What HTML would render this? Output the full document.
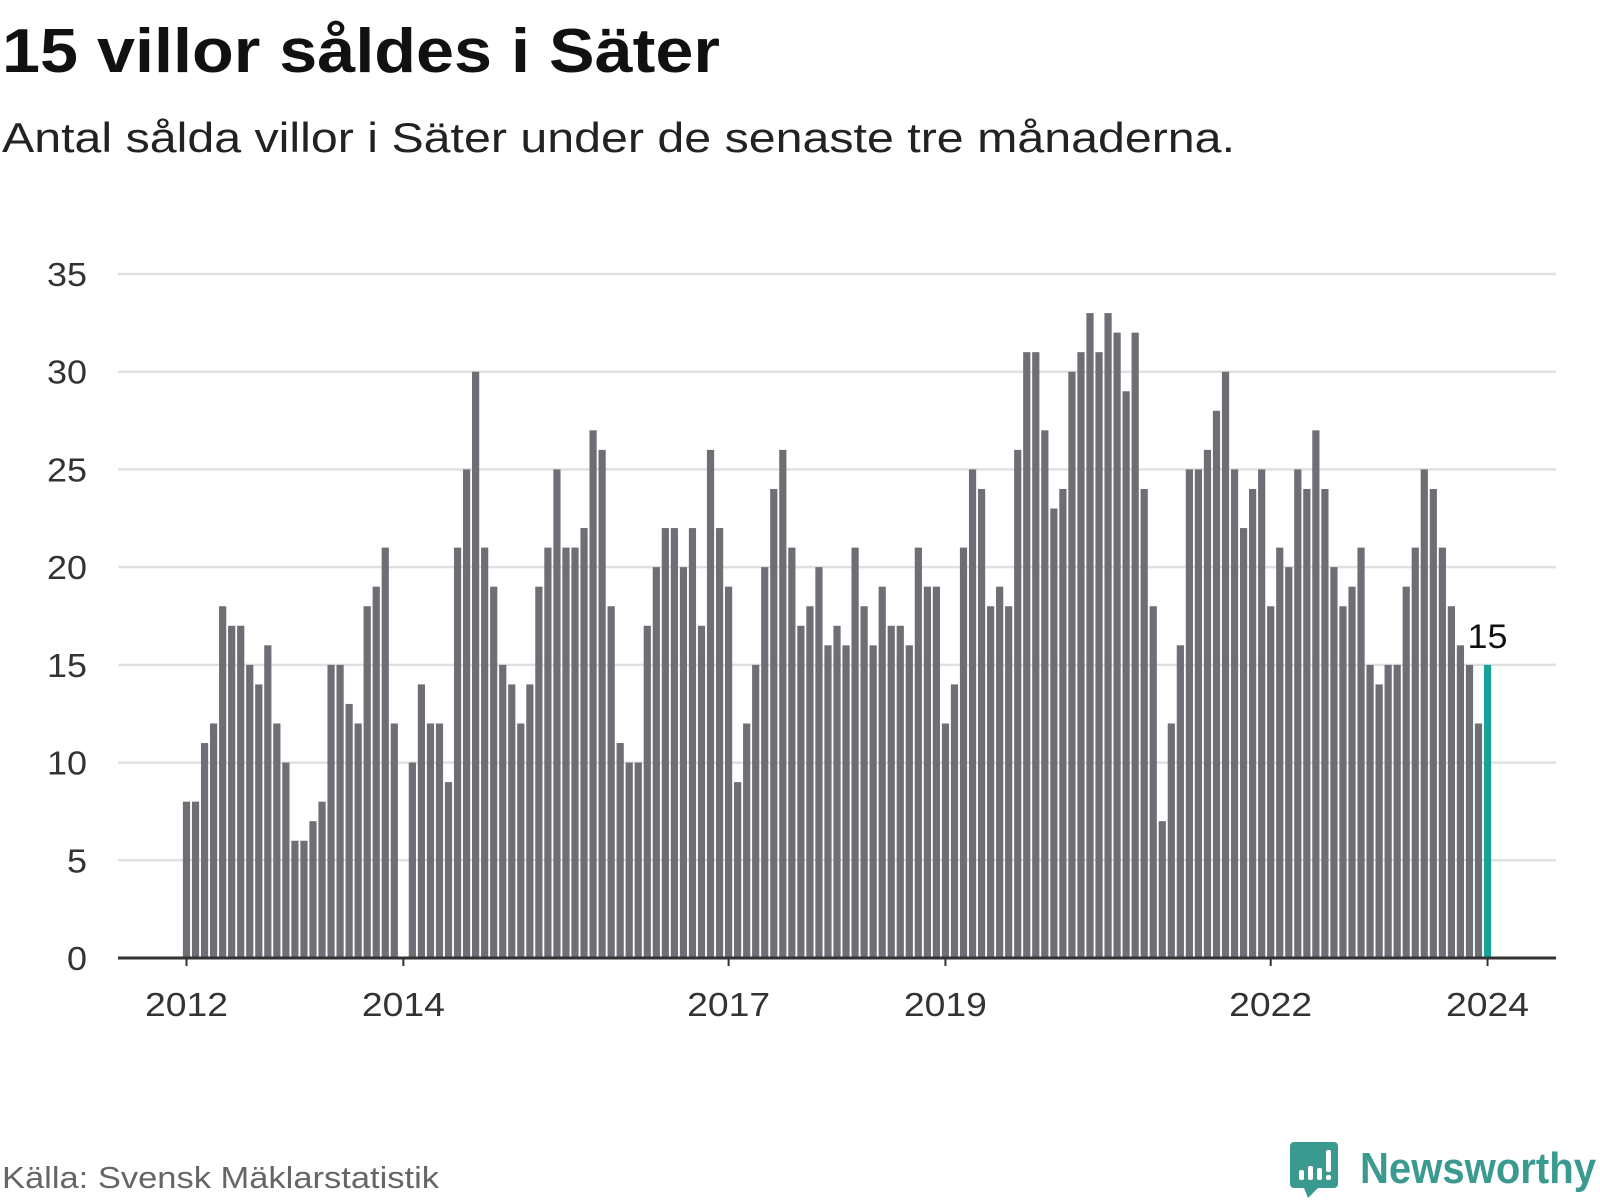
<!DOCTYPE html>
<html><head><meta charset="utf-8"><style>
html,body{margin:0;padding:0;background:#fff;width:1600px;height:1200px;overflow:hidden}
svg{display:block;font-family:"Liberation Sans",sans-serif}
</style></head><body>
<svg id="chart" width="1600" height="1200" viewBox="0 0 1600 1200">
<text x="2" y="72" font-size="62" font-weight="bold" fill="#111" textLength="718" lengthAdjust="spacingAndGlyphs">15 villor såldes i Säter</text>
<text x="2" y="152" font-size="42" fill="#222" textLength="1233" lengthAdjust="spacingAndGlyphs">Antal sålda villor i Säter under de senaste tre månaderna.</text>
<g id="grid"></g>
<g id="yticks"></g>
<g id="bars"></g>
<g id="xticks"></g>
<text x="2" y="1188" font-size="31" fill="#666" textLength="437" lengthAdjust="spacingAndGlyphs">Källa: Svensk Mäklarstatistik</text>
<g>
<path d="M1294 1142 h40 a4 4 0 0 1 4 4 v38 a4 4 0 0 1 -4 4 h-16 l-10 10 l-4 -10 h-10 a4 4 0 0 1 -4 -4 v-38 a4 4 0 0 1 4 -4z" fill="#3a9a8f"/>
<rect x="1299" y="1170" width="5" height="10" rx="2" fill="#fff"/>
<rect x="1308" y="1166" width="5" height="14" rx="2" fill="#fff"/>
<rect x="1317" y="1168" width="5" height="12" rx="2" fill="#fff"/>
<rect x="1326" y="1150" width="5" height="22" rx="2" fill="#fff"/>
<rect x="1326" y="1175" width="5" height="5" rx="2" fill="#fff"/>
<text x="1360" y="1183" font-size="44" font-weight="bold" fill="#3a9a8f" textLength="236" lengthAdjust="spacingAndGlyphs">Newsworthy</text>
</g>
</svg>
<script>
const years = ["2012","2014","2017","2019","2022","2024"];
const yearIndex = [0,24,60,84,120,144];
const yTicks = [0,5,10,15,20,25,30,35];
const values = [8,8,11,12,18,17,17,15,14,16,12,10,6,6,7,8,15,15,13,12,18,19,21,12,
0,10,14,12,12,9,21,25,30,21,19,15,14,12,14,19,21,25,21,21,22,27,26,18,11,10,10,17,20,22,22,20,22,17,26,22,19,
9,12,15,20,24,26,21,17,18,20,16,17,16,21,18,16,19,17,17,16,21,19,19,
12,14,21,25,24,18,19,18,26,31,31,27,23,24,30,31,33,31,33,32,29,32,24,18,
7,12,16,25,25,26,28,30,25,22,24,25,
18,21,20,25,24,27,24,20,18,19,21,15,14,15,15,19,21,25,24,21,18,16,15,12,15];
const NS="http://www.w3.org/2000/svg";
const x0=186.5, step=9.035, left=118, right=1556, y0=958, yTop=274, yMax=35;
const xs=i=>x0+i*step;
const ys=v=>y0-(v/yMax)*(y0-yTop);
function mk(tag,attrs,parent){const e=document.createElementNS(NS,tag);for(const k in attrs)e.setAttribute(k,attrs[k]);parent.appendChild(e);return e;}
const grid=document.getElementById('grid'), yt=document.getElementById('yticks');
yTicks.forEach(t=>{
  if(t>0){const l=mk('line',{x1:left,x2:right,y1:ys(t),y2:ys(t),stroke:'#e0e0e0','stroke-width':2.5},grid);
  
  }
  const s=String(t);
  const tx=mk('text',{x:87,y:ys(t)+12,'font-size':33,fill:'#333','text-anchor':'end',textLength:s.length*20,lengthAdjust:'spacingAndGlyphs'},yt);
  tx.textContent=s;
  
  
});
const bars=document.getElementById('bars');
values.forEach((v,i)=>{
  if(v<=0)return;
  const last=i===values.length-1;
  const r=mk('rect',{x:xs(i)-3.6,y:ys(v),width:7.2,height:y0-ys(v),fill:last?'#17a39a':'#6e6e74'},bars);
  
  
  if(last){const lb=mk('text',{x:xs(i),y:ys(v)-17,'font-size':34,fill:'#111','text-anchor':'middle',textLength:40,lengthAdjust:'spacingAndGlyphs'},bars);
  lb.textContent=v;
  
  }
});
const xt=document.getElementById('xticks');
const ax=mk('line',{x1:left,x2:right,y1:y0,y2:y0,stroke:'#333','stroke-width':3},xt);


years.forEach((y,k)=>{
  const x=xs(yearIndex[k]);
  const tk=mk('line',{x1:x,x2:x,y1:y0,y2:y0+8,stroke:'#333','stroke-width':2},xt);
  
  
  const tx=mk('text',{x:x,y:1016,'font-size':33,fill:'#333','text-anchor':'middle',textLength:83,lengthAdjust:'spacingAndGlyphs'},xt);
  tx.textContent=y;
  
  
});
</script>
</body></html>
